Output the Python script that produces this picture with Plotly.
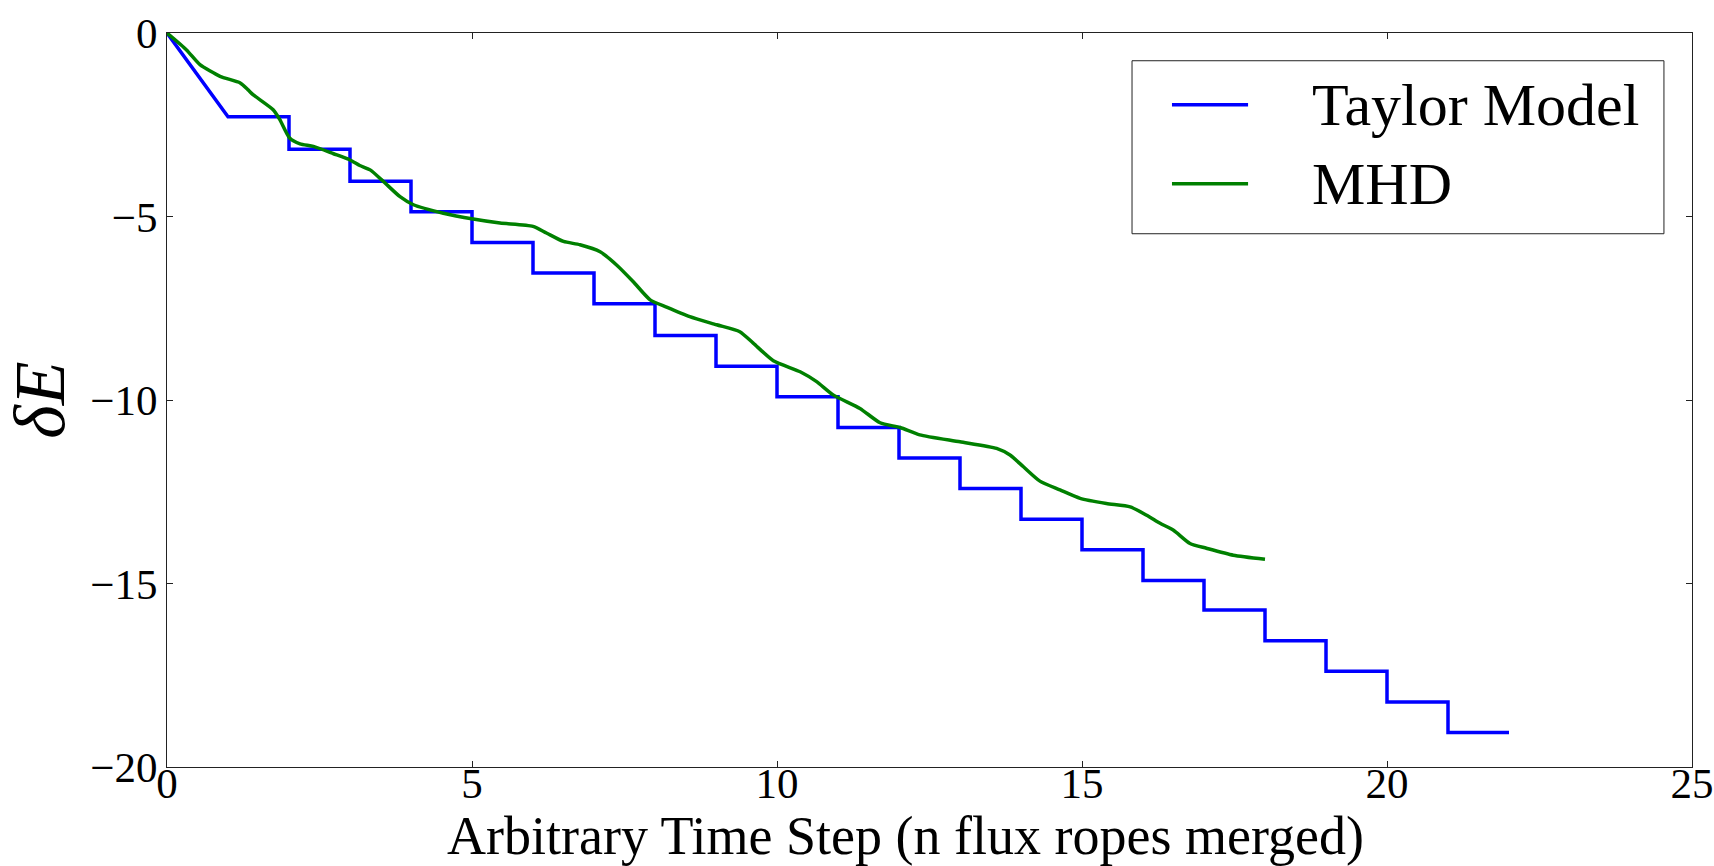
import plotly.graph_objects as go

# Taylor model energy levels at x = 0..21 (each held until the next integer step)
taylor_steps = list(range(0, 23))
taylor_levels = [0.0, -2.28, -3.17, -4.04, -4.87, -5.71, -6.54, -7.38, -8.24, -9.08,
                 -9.91, -10.75, -11.58, -12.41, -13.25, -14.08, -14.92, -15.72,
                 -16.56, -17.39, -18.23, -19.06]

# MHD simulation curve
mhd_x = [0.0, 0.32, 0.54, 0.87, 1.20, 1.33, 1.41, 1.74, 1.85, 2.01, 2.18, 2.40, 2.73,
         3.0, 3.16, 3.33, 3.55, 3.82, 4.04, 4.53, 5.02, 5.46, 6.0, 6.22, 6.50, 6.77,
         7.10, 7.37, 7.64, 7.92, 8.19, 8.57, 9.01, 9.39, 9.61, 9.94, 10.38, 10.65,
         10.92, 11.36, 11.69, 12.02, 12.34, 13.0, 13.60, 13.82, 14.04, 14.31, 14.64,
         14.97, 15.40, 15.79, 16.06, 16.28, 16.50, 16.77, 17.04, 17.48, 18.0]
mhd_y = [0.0, -0.46, -0.86, -1.18, -1.36, -1.55, -1.68, -2.09, -2.36, -2.86, -3.02,
         -3.09, -3.29, -3.46, -3.61, -3.73, -4.05, -4.46, -4.68, -4.91, -5.07, -5.18,
         -5.27, -5.45, -5.68, -5.77, -5.96, -6.32, -6.77, -7.27, -7.47, -7.73, -7.95,
         -8.14, -8.45, -8.93, -9.23, -9.50, -9.86, -10.23, -10.62, -10.75, -10.95,
         -11.14, -11.32, -11.50, -11.82, -12.21, -12.45, -12.68, -12.82, -12.91,
         -13.14, -13.36, -13.55, -13.91, -14.04, -14.23, -14.34]

x_ticks = [0, 5, 10, 15, 20, 25]
y_ticks = [0, -5, -10, -15, -20]
series_names = ["Taylor Model", "MHD"]
series_colors = ["#0000ff", "#008000"]
x_title = "Arbitrary Time Step (n flux ropes merged)"
y_title = "<i>\u03b4E</i>"

# build the Taylor staircase: diagonal first segment, then hold-and-drop
tx, ty = [taylor_steps[0]], [taylor_levels[0]]
for i in range(1, len(taylor_levels)):
    tx.append(taylor_steps[i]); ty.append(taylor_levels[i])
    tx.append(taylor_steps[i + 1]); ty.append(taylor_levels[i])

FONT = "Liberation Serif"

fig = go.Figure()
fig.add_trace(go.Scatter(x=tx, y=ty, mode="lines", name=series_names[0], showlegend=False,
                         line=dict(color=series_colors[0], width=3.5)))
fig.add_trace(go.Scatter(x=mhd_x, y=mhd_y, mode="lines", name=series_names[1], showlegend=False,
                         line=dict(color=series_colors[1], width=3.5, shape="spline", smoothing=0.6)))

axis_common = dict(showgrid=False, zeroline=False, showline=True, linecolor="#222",
                   linewidth=1, mirror="ticks", ticks="inside", ticklen=6,
                   tickcolor="#222", tickfont=dict(family=FONT, size=43, color="black"))

fig.update_xaxes(range=[0, 25], tickvals=x_ticks, ticktext=[str(v) for v in x_ticks],
                 ticklabelposition="outside", ticklabelstandoff=-22,
                 **axis_common)
fig.update_yaxes(range=[-20, 0], tickvals=y_ticks,
                 ticktext=[("\u2212" + str(-v)) if v < 0 else str(v) for v in y_ticks],
                 title=dict(text=y_title, font=dict(family=FONT, size=72, color="black"),
                            standoff=12),
                 **axis_common)

# hand-drawn legend box (matplotlib-style layout) in plot-area paper coordinates
box = dict(x0=0.6328, x1=0.9816, y0=0.7265, y1=0.9622)
row_y = [0.9023, 0.7946]
shapes = [dict(type="rect", xref="paper", yref="paper", **box,
               line=dict(color="#222", width=1), fillcolor="white", layer="above")]
annotations = []
for name, color, yy in zip(series_names, series_colors, row_y):
    shapes.append(dict(type="line", xref="paper", yref="paper", x0=0.659, x1=0.7089,
                       y0=yy, y1=yy, line=dict(color=color, width=3.5), layer="above"))
    annotations.append(dict(xref="paper", yref="paper", x=0.7495, y=yy, text=name,
                            showarrow=False, xanchor="left", yanchor="middle",
                            font=dict(family=FONT, size=60, color="black")))

# x-axis title placed as in the reference (slightly left of the plot centre)
annotations.append(dict(xref="paper", yref="paper", x=0.484, y=-0.0935, text=x_title,
                        showarrow=False, xanchor="center", yanchor="middle",
                        font=dict(family=FONT, size=54, color="black")))

fig.update_layout(
    width=1714, height=866,
    margin=dict(l=167, r=22, t=33, b=99, autoexpand=False),
    plot_bgcolor="white", paper_bgcolor="white",
    showlegend=False,
    shapes=shapes, annotations=annotations,
)

fig.write_html("out.html")
